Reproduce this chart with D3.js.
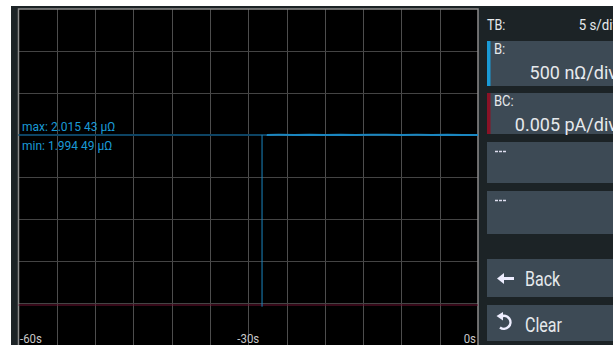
<!DOCTYPE html>
<html><head><meta charset="utf-8">
<script src="https://cdn.jsdelivr.net/npm/d3@7"></script>
<style>body{margin:0;background:#fff;overflow:hidden}svg{display:block}text{font-family:Roboto,"Noto Sans",sans-serif}</style>
</head><body><svg id="c" width="613" height="345"></svg>
<script>
// ---- data ----
const timeTicks = [-60, -30, 0];
const timeTickLabels = ["-60s", "-30s", "0s"];
// dim (older) part of trace B, seconds / µΩ
const histTimes = [-60, -27.6];
const histValues = [2.0, 2.0];
// glitch of trace B to ~0 µΩ
const glitchTimes = [-28.2, -28.2];
const glitchValues = [2.0, -0.02];
// bright (recent) part of trace B
const bTimes  = [-27.6, -26, -24, -22, -20, -18, -16, -14, -12, -10, -8, -6, -4, -2, 0];
const bValues = [2.0, 2.001, 1.999, 2.002, 2.0, 2.003, 1.998, 2.001, 2.002, 1.999, 2.001, 2.0, 2.002, 1.999, 2.0];
// trace BC (pA)
const bcTimes = [-60, 0];
const bcValues = [0, 0];
const maxLabel = "max: 2.015 43 µΩ";
const minLabel = "min: 1.994 49 µΩ";
const panelTB = ["TB:", "5 s/div"];
const channels = [{name:"B:", scale:"500 nΩ/div", color:"#1a9ad6"}, {name:"BC:", scale:"0.005 pA/div", color:"#8a1226"}, {name:"---", scale:"", color:null}, {name:"---", scale:"", color:null}];
const buttons = ["Back", "Clear"];

// ---- layout ----
const svg = d3.select("#c");
const P = {l:18.5, r:478, t:9, b:345};
const x = d3.scaleLinear().domain([-60, 0]).range([P.l, P.r]);
const y = d3.scaleLinear().domain([-0.47, 3.48]).range([P.b, P.t]);       // µΩ
const yBC = d3.scaleLinear().domain([-0.0047, 0.0348]).range([P.b, P.t]);  // pA

svg.append("rect").attr("x", 11).attr("y", 6).attr("width", 602).attr("height", 339).attr("fill", "#1c2326");
svg.append("rect").attr("x", P.l).attr("y", P.t).attr("width", P.r - P.l).attr("height", P.b - P.t).attr("fill", "#000");

// grid: 12 x 8 divisions
const gx = d3.range(1, 12).map(i => P.l + i * (P.r - P.l) / 12);
const gy = d3.range(1, 8).map(i => P.t + i * (P.b - P.t) / 8);
svg.append("g").selectAll("line").data(gx).join("line")
  .attr("x1", d => Math.round(d) + 0.5).attr("x2", d => Math.round(d) + 0.5).attr("y1", P.t).attr("y2", P.b)
  .attr("stroke", "#4d4d4d").attr("stroke-width", 1);
svg.append("g").selectAll("line").data(gy).join("line")
  .attr("y1", d => Math.round(d) + 0.5).attr("y2", d => Math.round(d) + 0.5).attr("x1", P.l).attr("x2", P.r)
  .attr("stroke", "#444").attr("stroke-width", 1);
// border
svg.append("path").attr("d", `M${P.l},${P.b}V${P.t}H${P.r}V${P.b}`).attr("fill", "none").attr("stroke", "#8c8c8c").attr("stroke-width", 1.5);

// traces
const lineB = d3.line().x(d => x(d[0])).y(d => y(d[1]));
svg.append("path").datum(d3.zip(histTimes, histValues)).attr("d", lineB)
  .attr("fill", "none").attr("stroke", "#0d4464").attr("stroke-width", 2);
svg.append("path").datum(d3.zip(bcTimes, bcValues)).attr("d", d3.line().x(d => x(d[0])).y(d => yBC(d[1])))
  .attr("fill", "none").attr("stroke", "#6e1232").attr("stroke-width", 1);
svg.append("path").datum(d3.zip(glitchTimes, glitchValues)).attr("d", lineB)
  .attr("fill", "none").attr("stroke", "#1a86c0").attr("stroke-width", 1);
svg.append("path").datum(d3.zip(bTimes, bValues)).attr("d", lineB)
  .attr("fill", "none").attr("stroke", "#1a86c0").attr("stroke-width", 2);

// labels in plot
svg.append("text").attr("x", 22).attr("y", 131).attr("font-size", 12).attr("fill", "#1a9ad6").text(maxLabel);
svg.append("text").attr("x", 22).attr("y", 150).attr("font-size", 12).attr("fill", "#1a9ad6").text(minLabel);

// time axis labels
svg.append("g").selectAll("text").data(timeTicks).join("text")
  .attr("transform", (d, i) => `translate(${i === 0 ? x(d) + 1.5 : i === 2 ? x(d) - 2 : x(d)},343) scale(0.88,1)`)
  .attr("text-anchor", (d, i) => i === 0 ? "start" : i === 2 ? "end" : "middle")
  .attr("font-size", 13).attr("fill", "#c8c8c8").text((d, i) => timeTickLabels[i]);

// right panel
function ptext(px, py, str, size, anchor, sx) {
  return svg.append("text").attr("transform", `translate(${px},${py}) scale(${sx},1)`)
    .attr("text-anchor", anchor).attr("font-size", size).attr("fill", "#e6e9ec").text(str);
}
ptext(487, 30, panelTB[0], 14, "start", 0.9);
ptext(619, 30, panelTB[1], 14, "end", 0.95);
const boxes = [[41, 86], [93, 134], [142, 183], [191, 234]];
channels.forEach((c, i) => {
  const [t, b] = boxes[i];
  svg.append("rect").attr("x", 487).attr("y", t).attr("width", 126).attr("height", b - t).attr("fill", "#3d4a55");
  if (c.color) {
    svg.append("rect").attr("x", 487).attr("y", t).attr("width", 3.5).attr("height", b - t).attr("fill", c.color);
    ptext(494, t + 13, c.name, 14.5, "start", 0.9);
    ptext(617, t + 38, c.scale, 18, "end", 1);
  } else {
    svg.append("line").attr("x1", 495).attr("x2", 507).attr("y1", t + 9.5).attr("y2", t + 9.5)
      .attr("stroke", "#dde").attr("stroke-width", 1.5).attr("stroke-dasharray", "3,1");
  }
});
[[259, 297], [305, 341]].forEach(([t, b], i) => {
  svg.append("rect").attr("x", 487).attr("y", t).attr("width", 126).attr("height", b - t).attr("fill", "#3d4a55");
  ptext(525, t + 27, buttons[i], 20, "start", 0.8);
});
// back arrow
svg.append("path").attr("d", "M514,278.5H502").attr("stroke", "#eef").attr("stroke-width", 3);
svg.append("path").attr("d", "M497,278.5L504,273V284Z").attr("fill", "#eef");
// clear icon
svg.append("path").attr("d", "M501,316.5A6.5,6.5 0 1 1 500,327.5").attr("fill", "none").attr("stroke", "#eef").attr("stroke-width", 2.5);
svg.append("path").attr("d", "M496.5,316L503,312L503,320.5Z").attr("fill", "#eef");
</script></body></html>
